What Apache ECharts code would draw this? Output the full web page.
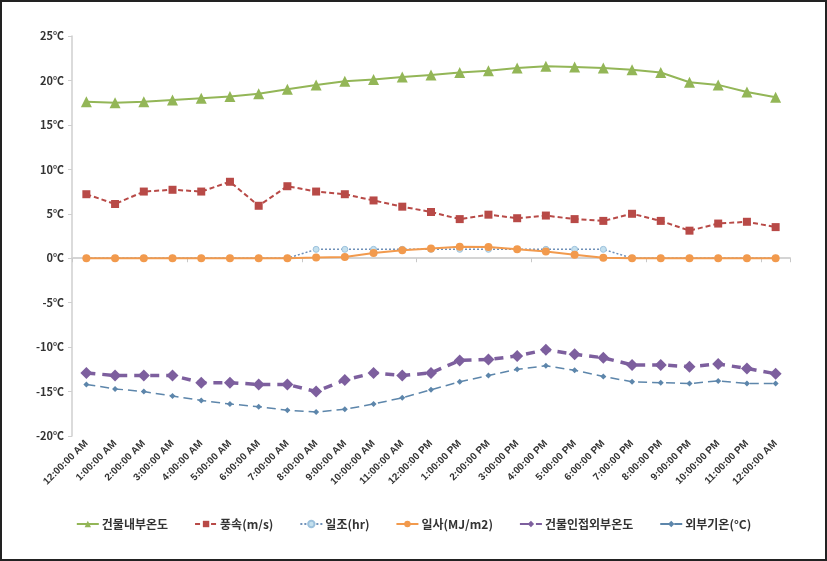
<!DOCTYPE html>
<html>
<head>
<meta charset="utf-8">
<script src="https://cdn.jsdelivr.net/npm/echarts@6/dist/echarts.min.js"></script>
<style>
  html, body { margin: 0; padding: 0; background: #fff; }
  #frame { width: 827px; height: 561px; box-sizing: border-box; border: 2px solid #222; }
  #chart { width: 823px; height: 557px; }
</style>
</head>
<body>
<div id="frame"><div id="chart"></div></div>
<script>
// 시간 (카테고리)
const hours = [
  '12:00:00 AM', '1:00:00 AM', '2:00:00 AM', '3:00:00 AM', '4:00:00 AM', '5:00:00 AM',
  '6:00:00 AM', '7:00:00 AM', '8:00:00 AM', '9:00:00 AM', '10:00:00 AM', '11:00:00 AM',
  '12:00:00 PM', '1:00:00 PM', '2:00:00 PM', '3:00:00 PM', '4:00:00 PM', '5:00:00 PM',
  '6:00:00 PM', '7:00:00 PM', '8:00:00 PM', '9:00:00 PM', '10:00:00 PM', '11:00:00 PM',
  '12:00:00 AM'
];

const seriesNames = ['건물내부온도', '풍속(m/s)', '일조(hr)', '일사(MJ/m2)', '건물인접외부온도', '외부기온(°C)'];

const indoorTemp = [17.6, 17.5, 17.6, 17.8, 18.0, 18.2, 18.5, 19.0, 19.5, 19.9, 20.1, 20.4, 20.6,
  20.9, 21.1, 21.4, 21.6, 21.5, 21.4, 21.2, 20.9, 19.8, 19.5, 18.7, 18.1];
const windSpeed = [7.2, 6.1, 7.5, 7.7, 7.5, 8.6, 5.9, 8.1, 7.5, 7.2, 6.5, 5.8, 5.2,
  4.4, 4.9, 4.5, 4.8, 4.4, 4.2, 5.0, 4.2, 3.1, 3.9, 4.1, 3.5];
const sunshine = [0, 0, 0, 0, 0, 0, 0, 0, 1, 1, 1, 1, 1,
  1, 1, 1, 1, 1, 1, 0, 0, 0, 0, 0, 0];
const radiation = [0, 0, 0, 0, 0, 0, 0, 0, 0.07, 0.15, 0.6, 0.9, 1.1,
  1.3, 1.25, 1.0, 0.75, 0.4, 0.05, 0, 0, 0, 0, 0, 0];
const nearOutdoorTemp = [-12.9, -13.2, -13.2, -13.2, -14.0, -14.0, -14.2, -14.2, -15.0, -13.7, -12.9, -13.2, -12.9,
  -11.5, -11.4, -11.0, -10.3, -10.8, -11.2, -12.0, -12.0, -12.2, -11.9, -12.4, -13.0];
const outdoorTemp = [-14.2, -14.7, -15.0, -15.5, -16.0, -16.4, -16.7, -17.1, -17.3, -17.0, -16.4, -15.7, -14.8,
  -13.9, -13.2, -12.5, -12.1, -12.6, -13.3, -13.9, -14.0, -14.1, -13.8, -14.1, -14.1];

const yMin = -20;
const yMax = 25;
const yStep = 5;

const chart = echarts.init(document.getElementById('chart'));

const option = {
  animation: false,
  textStyle: { fontFamily: '"Noto Sans CJK KR", "Noto Sans", sans-serif' },
  grid: { left: 70, right: 35, top: 34, bottom: 123 },
  legend: {
    bottom: 24,
    left: 'center',
    itemWidth: 22,
    itemHeight: 8,
    itemGap: 26,
    textStyle: { fontSize: 12, fontWeight: 'bold', color: '#333', padding: [0, 0, 0, -2] },
    data: seriesNames
  },
  xAxis: [
    {
      // 아래쪽 라벨만
      type: 'category',
      data: hours,
      position: 'bottom',
      axisLine: { show: false, onZero: false },
      axisTick: { show: false },
      splitLine: { show: false },
      axisLabel: {
        interval: 0,
        rotate: 45,
        fontSize: 10,
        fontWeight: 'bold',
        color: '#333',
        fontFamily: 'Liberation Sans, sans-serif',
        margin: 6
      }
    },
    {
      // 0℃ 위치의 축선
      type: 'category',
      data: hours,
      position: 'bottom',
      axisLine: { show: true, onZero: true, lineStyle: { color: '#d4d4d4', width: 2 } },
      axisTick: { show: true, length: 4, lineStyle: { color: '#c8c8c8' } },
      axisLabel: { show: false },
      splitLine: { show: false }
    }
  ],
  yAxis: {
    type: 'value',
    min: yMin,
    max: yMax,
    interval: yStep,
    axisLine: { show: true, lineStyle: { color: '#cfcfcf', width: 1.5 } },
    axisTick: { show: true, length: 4, lineStyle: { color: '#cfcfcf' } },
    splitLine: { show: false },
    axisLabel: {
      formatter: v => v + '℃',
      fontSize: 11,
      fontWeight: 'bold',
      color: '#333',
      margin: 8
    }
  },
  series: [
    {
      name: seriesNames[0],
      type: 'line',
      data: indoorTemp,
      color: '#93b657',
      symbol: 'triangle',
      symbolSize: 11,
      lineStyle: { width: 2 },
      z: 5
    },
    {
      name: seriesNames[1],
      type: 'line',
      data: windSpeed,
      color: '#b84a47',
      symbol: 'rect',
      symbolSize: 8,
      lineStyle: { width: 2, type: [5, 3] }
    },
    {
      name: seriesNames[2],
      type: 'line',
      data: sunshine,
      color: '#6f90b8',
      symbol: 'circle',
      symbolSize: 6,
      itemStyle: { color: '#c4e0ee', borderColor: '#9cc1dc', borderWidth: 1 },
      lineStyle: { width: 1.5, type: [2, 2], color: '#6f90b8' }
    },
    {
      name: seriesNames[3],
      type: 'line',
      data: radiation,
      color: '#f29a4d',
      symbol: 'circle',
      symbolSize: 8,
      lineStyle: { width: 2 }
    },
    {
      name: seriesNames[4],
      type: 'line',
      data: nearOutdoorTemp,
      color: '#7d5f9e',
      symbol: 'diamond',
      symbolSize: 12,
      lineStyle: { width: 3.5, type: [9, 7] }
    },
    {
      name: seriesNames[5],
      type: 'line',
      data: outdoorTemp,
      color: '#5d86ab',
      symbol: 'diamond',
      symbolSize: 6,
      lineStyle: { width: 1.5, type: [9, 5] }
    }
  ]
};

chart.setOption(option);
window.addEventListener('resize', () => chart.resize());
</script>
</body>
</html>
